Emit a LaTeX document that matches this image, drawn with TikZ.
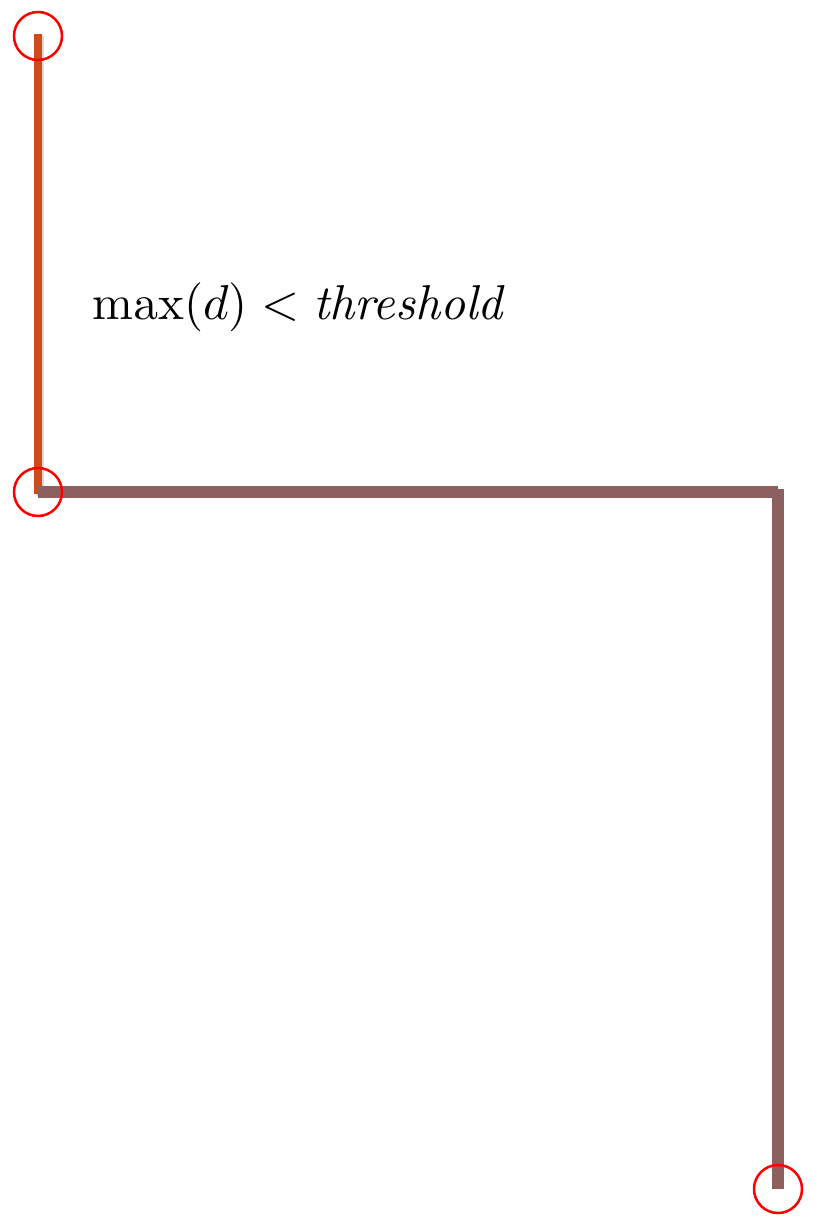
\documentclass[tikz,border=0pt]{standalone}
\usepackage{amsmath}
\usepackage{tikz}
\usetikzlibrary{positioning}
\definecolor{SplitOrange}{HTML}{D04B1B}
\definecolor{MergeBrown}{HTML}{8B605E}
\tikzset{
	ring/.style={ % markering af punkter
			circle,
			draw=red,
			line width=2.5pt,
			minimum size=48pt,
			inner sep=0pt
		},
	splitline/.style={
			draw=SplitOrange,
			line width=8pt,
			preaction={draw=black!15, line width=8pt, transform canvas={shift={(2pt,-2pt)}}}
		},
	mergeline/.style={
			draw=MergeBrown,
			line width=11.5pt
		}
}

\begin{document}
\begin{tikzpicture}[x=1pt, y=-1pt]
			\useasboundingbox (0,0) rectangle (818,1225);
			% Punkter
			\coordinate (top) at (38,34);
			\coordinate (turn) at (38,492);
			\coordinate (corner) at (778,492);
			\coordinate (bottom) at (778,1189);

			% Linjer
			\path[splitline] (top) -- ([yshift=-2pt]turn);
			\path[mergeline] (turn) -- (corner);
			\path[mergeline] ([yshift=3pt]corner) -- (bottom);

			% Cirkler
			\node (topring) [ring] at (38,36) {};
			\node (turnring) [ring] at (turn) {};
			\node (bottomring) [ring] at (bottom) {};

			% Labels
			\node (cond) [anchor=base west, inner sep=0pt, scale=4.9] at (92,319) {$\max(d) < \mathit{threshold}$};
		\end{tikzpicture}
\end{document}
